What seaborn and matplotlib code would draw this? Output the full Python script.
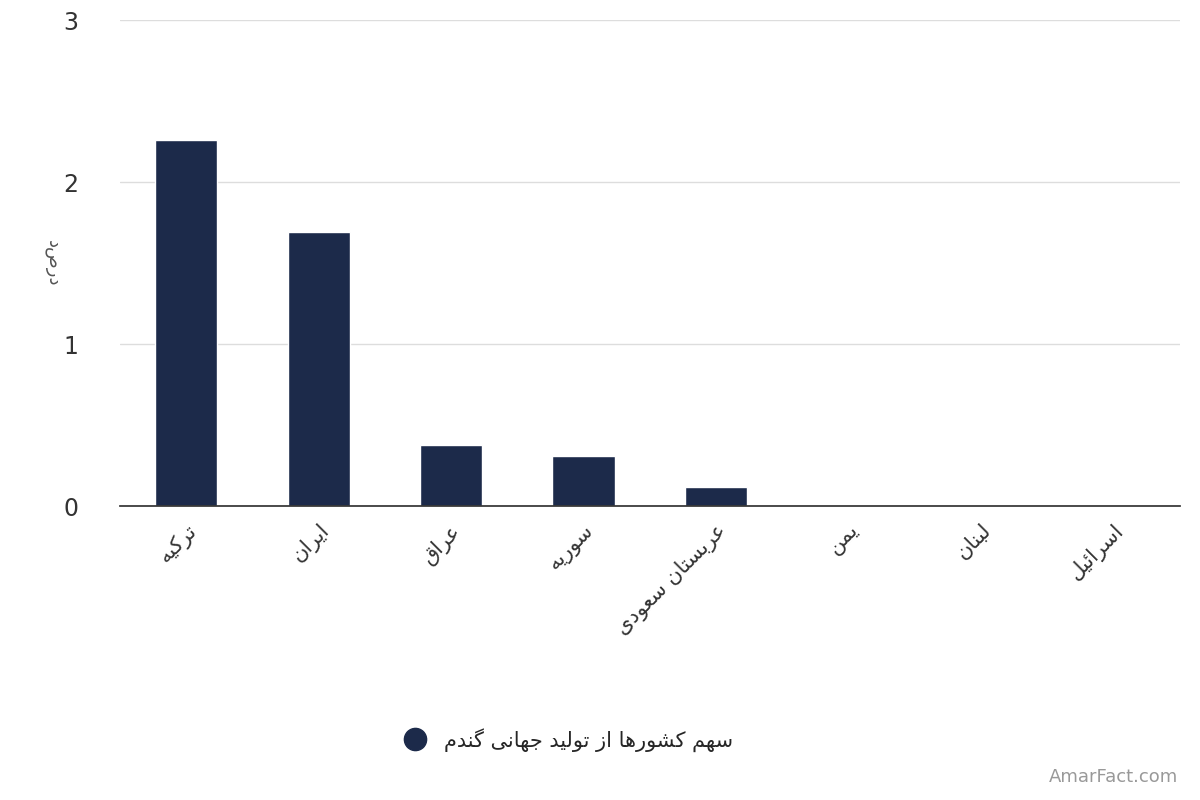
import matplotlib
matplotlib.use("Agg")
import matplotlib.pyplot as plt
import seaborn as sns
import pandas as pd
from matplotlib.lines import Line2D

countries = ["ترکیه", "ایران", "عراق", "سوریه", "عربستان سعودی", "یمن", "لبنان", "اسرائیل"]
shares = [2.26, 1.69, 0.38, 0.31, 0.12, 0.01, 0.01, 0.003]
series_name = "سهم کشورها از تولید جهانی گندم"
y_label = "درصد"

# minimal Persian shaping: isolated, final, initial, medial
FORMS = {
    'ا': (0xFE8D, 0xFE8E, None, None), 'ب': (0xFE8F, 0xFE90, 0xFE91, 0xFE92),
    'ت': (0xFE95, 0xFE96, 0xFE97, 0xFE98), 'ج': (0xFE9D, 0xFE9E, 0xFE9F, 0xFEA0),
    'د': (0xFEA9, 0xFEAA, None, None), 'ر': (0xFEAD, 0xFEAE, None, None),
    'ز': (0xFEAF, 0xFEB0, None, None), 'س': (0xFEB1, 0xFEB2, 0xFEB3, 0xFEB4),
    'ش': (0xFEB5, 0xFEB6, 0xFEB7, 0xFEB8), 'ع': (0xFEC9, 0xFECA, 0xFECB, 0xFECC),
    'ق': (0xFED5, 0xFED6, 0xFED7, 0xFED8), 'ل': (0xFEDD, 0xFEDE, 0xFEDF, 0xFEE0),
    'م': (0xFEE1, 0xFEE2, 0xFEE3, 0xFEE4), 'ن': (0xFEE5, 0xFEE6, 0xFEE7, 0xFEE8),
    'ه': (0xFEE9, 0xFEEA, 0xFEEB, 0xFEEC), 'و': (0xFEED, 0xFEEE, None, None),
    'ئ': (0xFE89, 0xFE8A, 0xFE8B, 0xFE8C), 'ک': (0xFB8E, 0xFB8F, 0xFB90, 0xFB91),
    'گ': (0xFB92, 0xFB93, 0xFB94, 0xFB95), 'ی': (0xFBFC, 0xFBFD, 0xFBFE, 0xFBFF),
}

def joins_next(c):
    return c in FORMS and FORMS[c][2] is not None

def shape(s):
    out = []
    for i, c in enumerate(s):
        if c not in FORMS:
            out.append(c)
            continue
        prev = s[i - 1] if i > 0 else ''
        nxt = s[i + 1] if i + 1 < len(s) else ''
        left = joins_next(prev)
        right = joins_next(c) and nxt in FORMS
        iso, fin, ini, med = FORMS[c]
        if left and right:
            code = med
        elif left:
            code = fin
        elif right:
            code = ini
        else:
            code = iso
        out.append(chr(code))
    return ''.join(out)[::-1]

sns.set_theme(style="white")
plt.rcParams['font.family'] = ['DejaVu Sans']

df = pd.DataFrame({"country": [shape(c) for c in countries], "share": shares})

fig = plt.figure(figsize=(12, 8), dpi=100)
ax = fig.add_axes([0.1, 0.367, 0.883, 0.608])
sns.barplot(data=df, x="country", y="share", color="#1c2a4a", width=0.47, ax=ax, saturation=1)
ax.set_ylim(0, 3)
ax.set_yticks([0, 1, 2, 3])
ax.set_xlim(-0.5, len(countries) - 0.5)
ax.yaxis.grid(True, color="#dddddd", linewidth=1)
ax.set_axisbelow(True)
for s in ["top", "right", "left"]:
    ax.spines[s].set_visible(False)
ax.spines["bottom"].set_color("#333333")
ax.tick_params(axis="y", labelsize=17, colors="#333333", length=0, pad=30)
ax.tick_params(axis="x", labelsize=15, colors="#333333", length=0, pad=10)
plt.setp(ax.get_xticklabels(), rotation=45, ha="right", rotation_mode="anchor")
ax.set_xlabel("")
ax.set_ylabel(shape(y_label), fontsize=13, color="#555555", rotation=270, labelpad=40)
ax.yaxis.set_label_coords(-0.072, 0.5)

handle = Line2D([], [], marker="o", linestyle="", markersize=16, color="#1c2a4a")
fig.legend([handle], [shape(series_name)], loc="center", bbox_to_anchor=(0.47, 0.075),
           frameon=False, fontsize=15, handletextpad=0.4)
fig.text(0.982, 0.018, "AmarFact.com", ha="right", va="bottom", fontsize=13, color="#999999")

fig.savefig("out.png", dpi=100)
